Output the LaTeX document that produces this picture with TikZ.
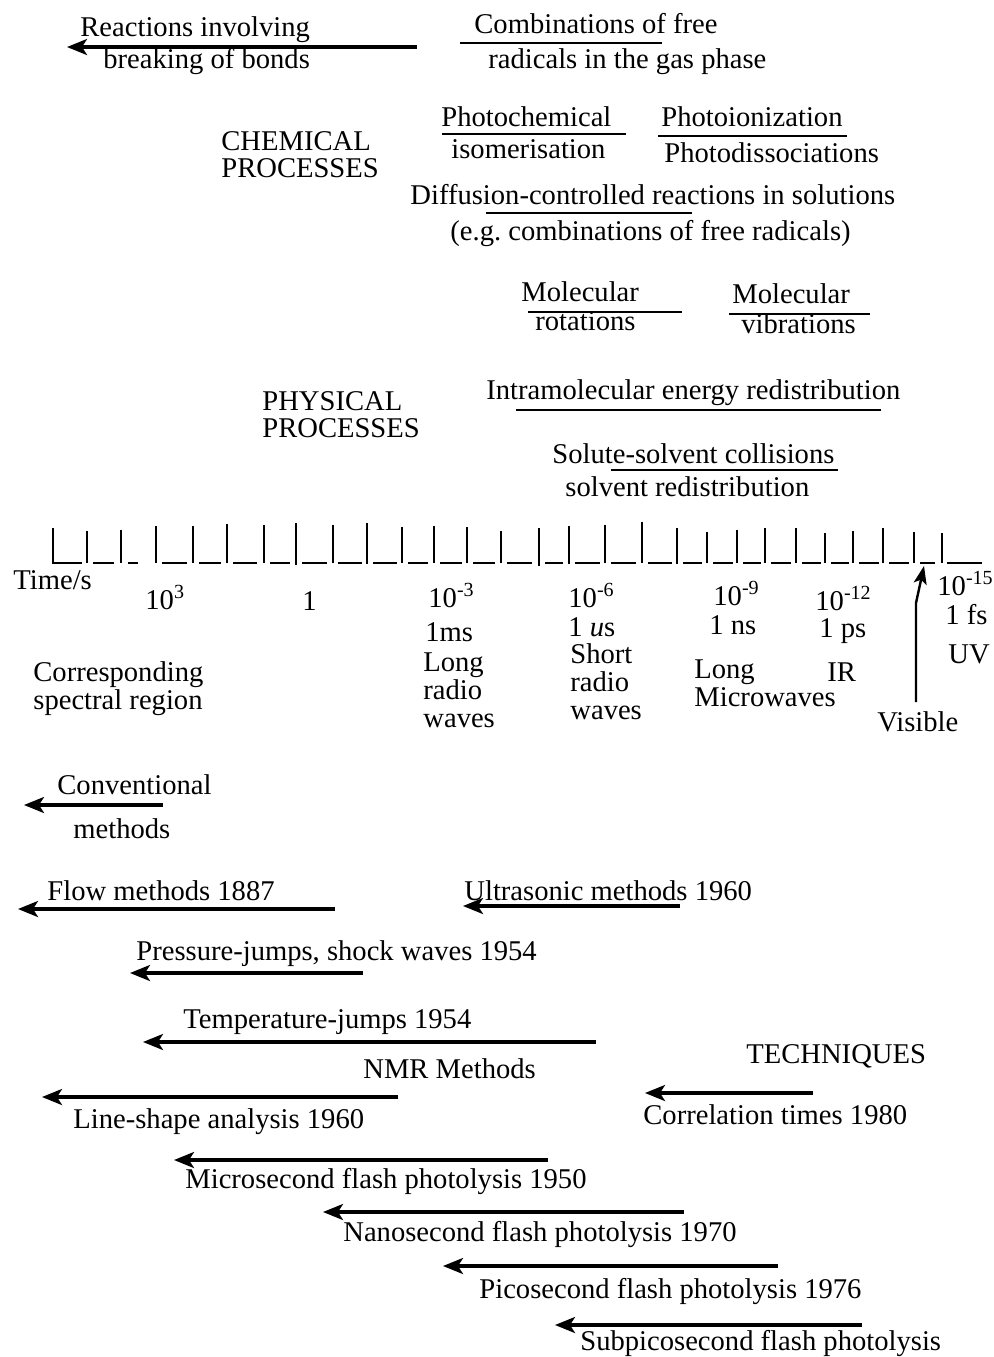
\documentclass[tikz,border=0pt]{standalone}
\usepackage{fontspec}
\setmainfont{Liberation Serif}
\usetikzlibrary{arrows.meta}

\tikzset{
  lbl/.style={font=\fontsize{14.3}{14.3}\selectfont, inner sep=0pt, anchor=base west},
  uline/.style={line width=1pt},
  axisline/.style={line width=1.1pt},
  larrow/.style={line width=1.6pt, -{Stealth[length=10pt,width=8pt,inset=2.5pt]}},
  varrow/.style={line width=1.2pt, -{Stealth[length=9pt,width=6.5pt,inset=2pt]}}
}

\begin{document}
\frenchspacing
\begin{tikzpicture}[x=0.5pt, y=-0.5pt]
\useasboundingbox (0,0) rectangle (994,1357);

% chemical processes
\node[lbl] (react1) at (80,36) {Reactions involving};
\node[lbl] (react2) at (103,68) {breaking of bonds};
\draw[larrow] (417,47) -- (67,47);
\node[lbl] (comb1) at (474,33) {Combinations of free};
\node[lbl] (comb2) at (488,68) {radicals in the gas phase};
\draw[uline] (460,43) -- (662,43);

\node[lbl] (chem1) at (221,150) {CHEMICAL};
\node[lbl] (chem2) at (221,177) {PROCESSES};

\node[lbl] (photochem1) at (441,126) {Photochemical};
\node[lbl] (photochem2) at (451,158) {isomerisation};
\draw[uline] (442,134) -- (626,134);
\node[lbl] (photoion1) at (661,126) {Photoionization};
\node[lbl] (photoion2) at (664,162) {Photodissociations};
\draw[uline] (658,136) -- (847,136);

\node[lbl] (diff1) at (410,204) {Diffusion-controlled reactions in solutions};
\node[lbl] (diff2) at (450,240) {(e.g. combinations of free radicals)};
\draw[uline] (486,213) -- (692,213);

% physical processes
\node[lbl] (molrot1) at (521,301) {Molecular};
\node[lbl] (molrot2) at (535,330) {rotations};
\draw[uline] (528,312) -- (682,312);
\node[lbl] (molvib1) at (732,303) {Molecular};
\node[lbl] (molvib2) at (741,333) {vibrations};
\draw[uline] (729,314) -- (870,314);

\node[lbl] (phys1) at (262,410) {PHYSICAL};
\node[lbl] (phys2) at (262,437) {PROCESSES};

\node[lbl] (intra) at (486,399) {Intramolecular energy redistribution};
\draw[uline] (516,410) -- (881,410);
\node[lbl] (solute1) at (552,463) {Solute-solvent collisions};
\node[lbl] (solute2) at (565,496) {solvent redistribution};
\draw[uline] (611,470) -- (838,470);

% time axis
\draw[axisline] (53,528) -- (53,563) -- (82,563);
\draw[axisline] (87,531) -- (87,563) (93,563) -- (114,563);
\draw[axisline] (121,530) -- (121,563) (128,563) -- (138,563);
\draw[axisline] (156,526) -- (156,563) (162,563) -- (187,563);
\draw[axisline] (193,526) -- (193,563) (199,563) -- (221,563);
\draw[axisline] (227,524) -- (227,563) (233,563) -- (257,563);
\draw[axisline] (264,525) -- (264,563) (270,563) -- (290,563);
\draw[axisline] (296,523) -- (296,565) (302,563) -- (327,563);
\draw[axisline] (333,525) -- (333,563) (338,563) -- (362,563);
\draw[axisline] (367,523) -- (367,564) (373,563) -- (397,563);
\draw[axisline] (402,527) -- (402,563) (408,563) -- (428,563);
\draw[axisline] (434,526) -- (434,563) (440,563) -- (462,563);
\draw[axisline] (467,527) -- (467,563) (473,563) -- (495,563);
\draw[axisline] (501,531) -- (501,563) (507,563) -- (532,563);
\draw[axisline] (539,528) -- (539,566) (545,563) -- (563,563);
\draw[axisline] (569,526) -- (569,564) (575,563) -- (600,563);
\draw[axisline] (605,525) -- (605,563) (611,563) -- (636,563);
\draw[axisline] (642,522) -- (642,563) (648,563) -- (672,563);
\draw[axisline] (677,528) -- (677,564) (683,563) -- (702,563);
\draw[axisline] (707,532) -- (707,563) (713,563) -- (733,563);
\draw[axisline] (737,530) -- (737,563) (743,563) -- (761,563);
\draw[axisline] (765,528) -- (765,563) (771,563) -- (791,563);
\draw[axisline] (796,528) -- (796,563) (802,563) -- (821,563);
\draw[axisline] (825,533) -- (825,563) (831,563) -- (849,563);
\draw[axisline] (853,531) -- (853,563) (859,563) -- (879,563);
\draw[axisline] (883,528) -- (883,563) (889,563) -- (909,563);
\draw[axisline] (914,532) -- (914,563) (920,563) -- (935,563);
\draw[axisline] (942,533) -- (942,563) (947,563) -- (982,563);

\node[lbl] (timelbl) at (13,589) {Time/s};
\node[lbl] (e3) at (145,609) {10\textsuperscript{3}};
\node[lbl] (e0) at (302,610) {1};
\node[lbl] (em3) at (428,607) {10\textsuperscript{-3}};
\node[lbl] (ms) at (425,641) {1ms};
\node[lbl] (lr1) at (423,671) {Long};
\node[lbl] (lr2) at (423,699) {radio};
\node[lbl] (lr3) at (423,727) {waves};
\node[lbl] (em6) at (568,607) {10\textsuperscript{-6}};
\node[lbl] (us) at (568,636) {1 \textit{u}s};
\node[lbl] (sr1) at (570,663) {Short};
\node[lbl] (sr2) at (570,691) {radio};
\node[lbl] (sr3) at (570,719) {waves};
\node[lbl] (em9) at (713,605) {10\textsuperscript{-9}};
\node[lbl] (ns) at (709,634) {1 ns};
\node[lbl] (mw1) at (694,678) {Long};
\node[lbl] (mw2) at (694,706) {Microwaves};
\node[lbl] (em12) at (815,610) {10\textsuperscript{-12}};
\node[lbl] (ps) at (819,637) {1 ps};
\node[lbl] (ir) at (827,681) {IR};
\node[lbl] (visible) at (877,731) {Visible};
\draw[varrow] (916,702) -- (916,603) -- (924,566);
\node[lbl] (em15) at (937,595) {10\textsuperscript{-15}};
\node[lbl] (fs) at (945,624) {1 fs};
\node[lbl] (uv) at (948,663) {UV};
\node[lbl] (spec1) at (33,681) {Corresponding};
\node[lbl] (spec2) at (33,709) {spectral region};

% techniques
\node[lbl] (conv1) at (57,794) {Conventional};
\node[lbl] (conv2) at (73,838) {methods};
\draw[larrow] (163,805) -- (24,805);
\node[lbl] (flow) at (47,900) {Flow methods 1887};
\draw[larrow] (335,909) -- (18,909);
\node[lbl] (ultra) at (464,900) {Ultrasonic methods 1960};
\draw[larrow] (680,906) -- (463,906);
\node[lbl] (press) at (136,960) {Pressure-jumps, shock waves 1954};
\draw[larrow] (363,973) -- (130,973);
\node[lbl] (temp) at (183,1028) {Temperature-jumps 1954};
\draw[larrow] (596,1042) -- (143,1042);
\node[lbl] (nmr) at (363,1078) {NMR Methods};
\node[lbl] (tech) at (746,1063) {TECHNIQUES};
\draw[larrow] (398,1097) -- (42,1097);
\node[lbl] (lineshape) at (73,1128) {Line-shape analysis 1960};
\draw[larrow] (813,1093) -- (645,1093);
\node[lbl] (correl) at (643,1124) {Correlation times 1980};
\draw[larrow] (548,1160) -- (174,1160);
\node[lbl] (micro) at (185,1188) {Microsecond flash photolysis 1950};
\draw[larrow] (684,1212) -- (323,1212);
\node[lbl] (nano) at (343,1241) {Nanosecond flash photolysis 1970};
\draw[larrow] (778,1266) -- (443,1266);
\node[lbl] (pico) at (479,1298) {Picosecond flash photolysis 1976};
\draw[larrow] (862,1325) -- (555,1325);
\node[lbl] (subpico) at (580,1350) {Subpicosecond flash photolysis};

\end{tikzpicture}
\end{document}
